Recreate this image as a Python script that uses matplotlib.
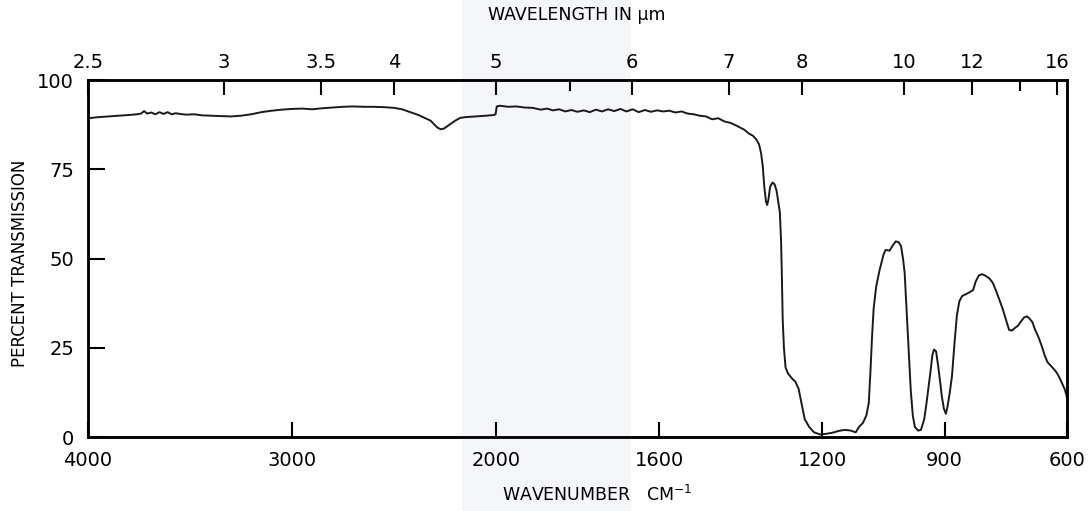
import numpy as np
import matplotlib.pyplot as plt
from matplotlib.patches import Rectangle

plt.rcParams['font.family'] = ['DejaVu Sans']

# spectrum (wavenumber in cm-1, percent transmission)
wavenumber = [4000, 3950, 3900, 3850, 3800, 3760, 3740, 3725, 3710, 3690, 3670, 3650,
              3630, 3610, 3590, 3570, 3550, 3520, 3480, 3440, 3400, 3350, 3300, 3250,
              3200, 3150, 3100, 3050, 3000, 2950, 2900, 2850, 2800, 2750, 2700, 2650,
              2600, 2550, 2500, 2460, 2420, 2380, 2350, 2320, 2300, 2285, 2270, 2255,
              2240, 2225, 2200, 2175, 2150, 2100, 2050, 2010, 2002, 1998, 1990,
              1970, 1950, 1930, 1910, 1890, 1875, 1860, 1845, 1830, 1815, 1800, 1785,
              1770, 1755, 1740, 1725, 1710, 1695, 1680, 1665, 1650, 1635, 1620, 1605,
              1590, 1575, 1560, 1545, 1530, 1515, 1500, 1485, 1470, 1455, 1440, 1425,
              1410, 1400, 1390, 1380, 1370, 1362, 1355, 1350, 1346, 1342, 1338, 1335,
              1332, 1328, 1322, 1317, 1312, 1308, 1304, 1301, 1299, 1297, 1294, 1290,
              1284, 1275, 1266, 1258, 1250, 1243, 1232, 1220, 1205, 1190, 1175, 1160,
              1145, 1130, 1118, 1110, 1100, 1092, 1086, 1082, 1078, 1074, 1068, 1060,
              1050, 1045, 1035, 1028, 1020, 1013, 1007, 1002, 998, 993, 988, 983, 978,
              973, 965, 958, 950, 945, 940, 935, 930, 926, 921, 916, 911, 907, 902, 897,
              893, 888, 882, 876, 870, 864, 857, 848, 838, 830, 824, 816, 808, 800, 790,
              782, 774, 766, 758, 750, 742, 735, 728, 720, 712, 705, 698, 692, 685, 678,
              670, 662, 655, 648, 640, 632, 625, 618, 612, 606, 602, 600]
transmission = [89.3, 89.6, 89.8, 90.0, 90.2, 90.4, 90.6, 91.3, 90.6, 90.9, 90.4, 91.0,
                90.5, 91.0, 90.4, 90.7, 90.5, 90.3, 90.4, 90.1, 90.0, 89.9, 89.8, 90.0,
                90.4, 91.0, 91.4, 91.7, 91.9, 92.0, 91.8, 92.1, 92.3, 92.5, 92.6, 92.5,
                92.5, 92.4, 92.2, 91.8, 91.0, 90.2, 89.4, 88.6, 87.4, 86.6, 86.2, 86.4,
                87.0, 87.6, 88.6, 89.4, 89.6, 89.8, 90.0, 90.2, 90.4, 92.6, 92.8,
                92.5, 92.6, 92.3, 92.2, 91.7, 92.0, 91.5, 91.8, 91.2, 91.6, 91.1, 91.5,
                91.0, 91.7, 91.2, 91.8, 91.3, 91.9, 91.2, 91.8, 91.0, 91.6, 91.1, 91.5,
                91.2, 91.4, 90.9, 91.2, 90.6, 90.4, 90.0, 89.8, 89.0, 89.3, 88.4, 88.0,
                87.2, 86.6, 86.0, 85.0, 84.4, 83.4, 82.0, 79.5, 76.0, 70.0, 66.0, 65.0,
                66.5, 70.0, 71.3, 70.8, 69.0, 66.0, 63.0, 55.0, 45.0, 33.0, 25.0, 19.5,
                17.8, 16.5, 15.5, 13.5, 9.0, 5.0, 2.8, 1.3, 0.7, 0.9, 1.2, 1.7,
                2.0, 1.8, 1.3, 2.8, 4.0, 6.0, 9.5, 18.0, 28.0, 36.0, 42.0, 46.5,
                51.0, 52.4, 52.2, 53.5, 54.8, 54.6, 53.5, 50.0, 46.0, 35.0, 24.0, 13.0, 6.0,
                2.8, 1.8, 2.0, 5.0, 9.0, 13.5, 18.0, 23.0, 24.5, 24.0, 20.0, 15.5, 11.5, 8.0, 6.5,
                8.5, 12.0, 17.0, 26.0, 34.0, 38.0, 39.5, 40.0, 40.6, 41.2, 43.5, 45.3, 45.6, 45.2, 44.4,
                43.2, 41.0, 38.5, 36.0, 33.0, 30.0, 29.8, 30.5, 31.2, 32.5, 33.5, 33.8, 33.2, 32.2, 30.0,
                28.0, 25.5, 23.0, 21.0, 20.0, 19.0, 18.0, 16.5, 15.0, 13.5, 12.0, 11.0]

bottom_ticks = [4000, 3000, 2000, 1600, 1200, 900, 600]
top_major_um = [2.5, 3, 3.5, 4, 5, 6, 7, 8, 10, 12, 16]
top_labels = ['2.5', '3', '3.5', '4', '5', '6', '7', '8', '10', '12', '16']
top_minor_um = [5.5, 14]
y_ticks = [0, 25, 50, 75, 100]


# scale change at 2000 cm-1: below it the chart runs at double scale
def fwd(w):
    w = np.asarray(w, dtype=float)
    return np.where(w >= 2000, w / 2.0, w - 1000)


def inv(u):
    u = np.asarray(u, dtype=float)
    return np.where(u >= 1000, 2.0 * u, u + 1000)


fig = plt.figure(figsize=(10.91, 5.11), dpi=100, facecolor='white')
# faint scanner band
fig.patches.append(Rectangle((0.4235, 0.0), 0.155, 1.0, transform=fig.transFigure,
                             facecolor='#f5f6f9', edgecolor='none', zorder=-5))
fig.subplots_adjust(left=0.0807, right=0.978, bottom=0.1448, top=0.8434)
ax = fig.add_subplot(111)
ax.patch.set_alpha(0)

ax.set_xscale('function', functions=(fwd, inv))
ax.plot(wavenumber, transmission, color='#1a1a1a', lw=1.4)
ax.set_xlim(4000, 600)
ax.set_ylim(0, 100)
ax.set_xticks(bottom_ticks, [str(t) for t in bottom_ticks])
ax.set_yticks(y_ticks, [str(t) for t in y_ticks])
ax.tick_params(axis='x', direction='in', length=11, width=1.5, pad=10, labelsize=14)
ax.tick_params(axis='y', direction='in', length=12, width=1.5, pad=10, labelsize=14)
for s in ax.spines.values():
    s.set_linewidth(1.8)

ax2 = ax.twiny()
ax2.patch.set_alpha(0)
ax2.set_xscale('function', functions=(fwd, inv))
ax2.set_xlim(4000, 600)
ax2.set_xticks([1e4 / u for u in top_major_um], top_labels)
ax2.set_xticks([1e4 / u for u in top_minor_um], minor=True)
ax2.tick_params(axis='x', which='major', direction='in', length=11, width=1.5, pad=6,
                labelsize=14)
ax2.tick_params(axis='x', which='minor', direction='in', length=8, width=1.5)
for s in ax2.spines.values():
    s.set_linewidth(1.8)

fig.text(0.529, 0.971, 'WAVELENGTH IN µm', ha='center', va='center', fontsize=12.5)
fig.text(0.547, 0.032, 'WAVENUMBER   CM$^{-1}$', ha='center', va='center', fontsize=12.5)
fig.text(0.018, 0.485, 'PERCENT TRANSMISSION', ha='center', va='center',
         rotation=90, fontsize=12)

fig.savefig('out.png', dpi=100)
